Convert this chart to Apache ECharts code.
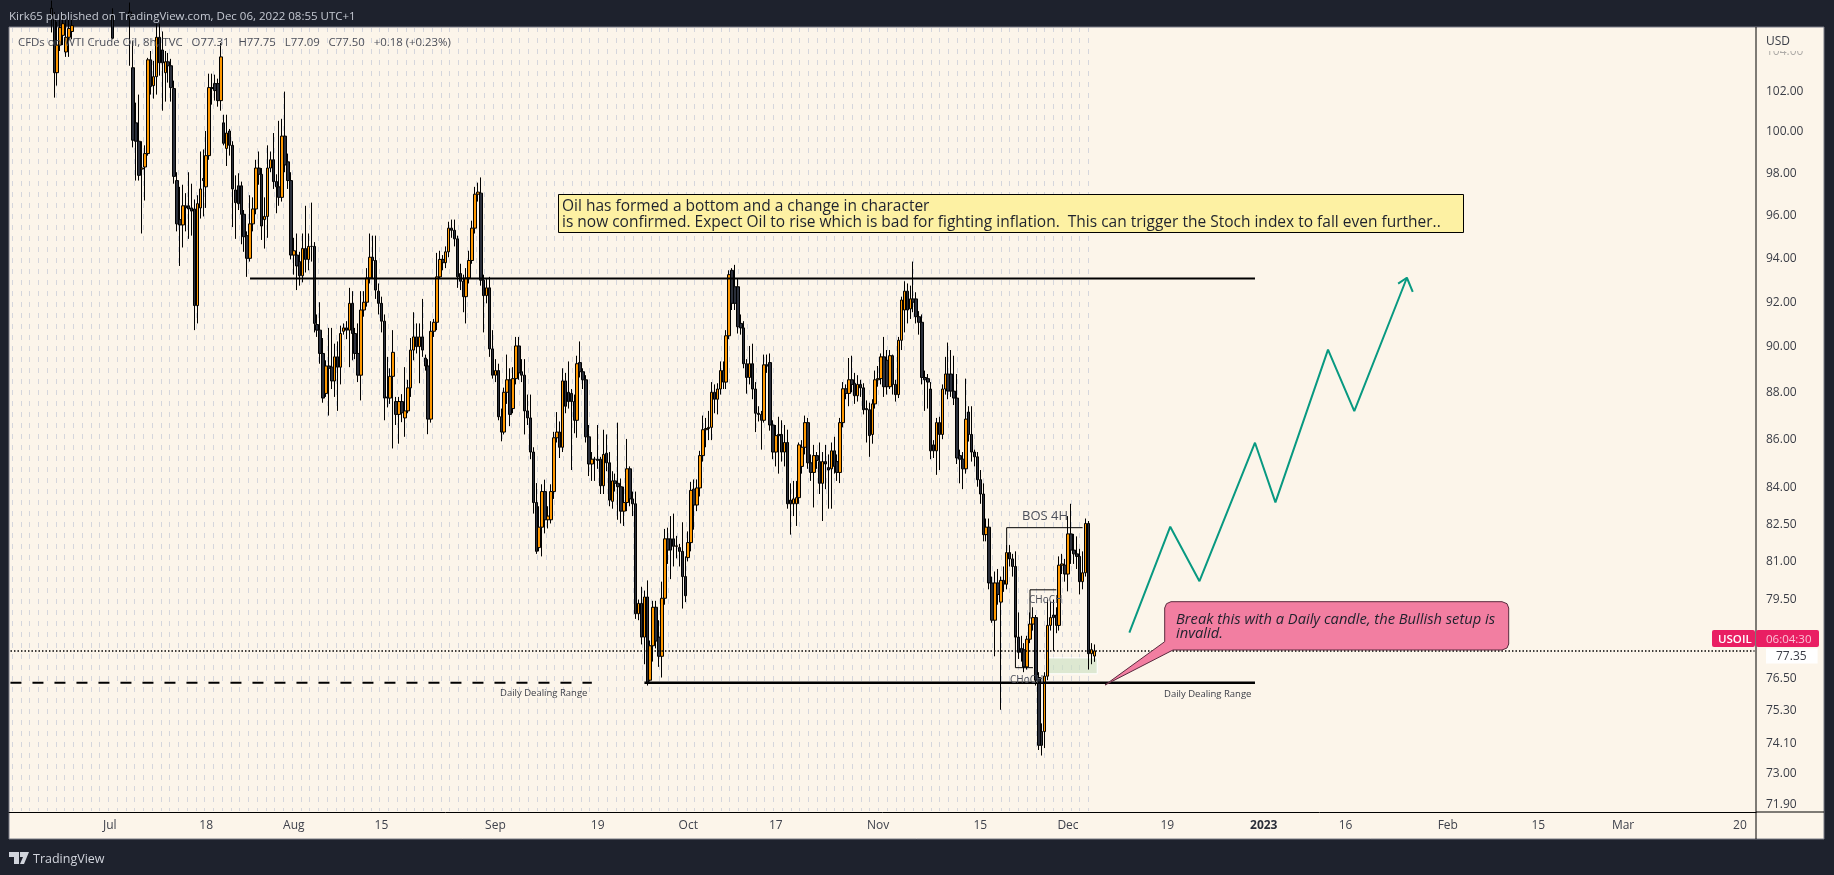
<!DOCTYPE html>
<html>
<head>
<meta charset="utf-8">
<title>USOIL 8h</title>
<script src="https://cdn.jsdelivr.net/npm/echarts@6/dist/echarts.min.js"></script>
<style>
  html, body { margin: 0; padding: 0; background: #1e222d; }
  #chart { width: 1834px; height: 875px; }
</style>
</head>
<body>
<div id="chart"></div>
<script>
// candles are [open, close, low, high]
const earlyCandles = [
  [106.2,105.8,104.95,106.6],[105.6,102.9,101.65,106],[102.9,104.3,102.25,105.5],[104.3,105.2,104,105.6],
  [104.8,105.4,104.3,105.8],[103.95,104.7,103.7,105.6],[104.7,105.15,103.7,105.6],[105,105.3,104.6,105.7]
];
const loneCandles = [[105.8,104.65,104.6,106.2]];
const julyCandles = [
  [106,105.7,103.25,106.5],[103.15,99.55,99.2,104.5],[100.4,99.5,97.6,101.4],[99.5,97.85,97.6,101.8],
  [98.15,98.2,95.1,99.5],[98.25,98.9,96.65,99.3],[98.9,103.55,98.8,103.65],[103.55,102.2,101.8,104],
  [102.25,102.7,101.6,103.5],[102.7,104.7,101.8,105.4],[104.7,103.4,102.75,105.4],[104.05,103.4,101,105],
  [102.9,103.45,101.45,104],[103.45,103.25,102.4,103.9],[103.25,102.15,101.45,103.6],[102.1,97.8,97.45,102.5],[97.6,95.55,95.2,98],
  [95.75,95.5,93.6,97.3],[95.5,96.4,94.45,97.4],[96.4,96.3,95.2,97],[96.4,96.25,94.85,98],[96.3,96.15,95,97.45],
  [96.25,91.8,90.7,96.7],[91.8,96.5,91,96.9],[96.3,97.2,95.8,99],[97.7,97.6,95.9,99.1],
  [97.3,98.8,96.3,100],[98.8,102.15,98.6,102.85],[102.15,102.1,101.3,102.85],[102.35,102,101.5,102.8],
  [102.35,101.5,101.2,102.6],[101.5,103.7,101,104.4],[100.4,99.4,99.3,100.8],[99.15,99.9,98.3,100.8],
  [100,99.3,98.8,100.1],[99.3,97.2,95.4,99.5],[97.15,96.55,94.85,97.85],[97.35,96.5,96.2,97.95],
  [97.35,96,94.6,97.55],[96,94.95,94.25,96.2],[95,93.95,93.1,95.2],[93.95,95.55,93.8,96.9],
  [95.55,96.25,95.2,96.8],[96.25,98.2,96,98.6],[98.2,97.9,97.4,99],[97.9,95.45,94.8,98.2],
  [95.75,95.9,94.4,96.8],[95.9,98.2,94.9,99.3],[98.2,98.6,98,99],[98.6,97.55,97.2,99.9],
  [97.55,97.3,96.05,97.9],[97.3,96.8,96.4,100.5],[96.8,99.75,96.6,100.6],[99.75,98.35,98,101.95],
  [98.5,97.6,97.2,98.9],[97.6,94.1,93.9,98],[94.1,94.3,93.2,94.9],[94.1,93.6,92.5,95.1],[93.8,93.15,92.7,94.25],
  [93.15,94.4,92.85,95.1],[94.4,93.9,93.3,96.4],[93.9,94.5,93.4,95.1],[94.5,94.5,93.8,96.55]
];
const augustCandles = [
  [94.5,91,90.6,94.7],[90.95,90.7,90.4,91.4],[90.7,89.67,89.22,91.95],[89.67,87.73,87.53,90.35],
  [87.93,89.12,87.78,89.37],[89.12,89.02,86.98,90.8],[89.07,88.47,88.12,90.8],[88.47,89.52,87.78,90.1],
  [89.52,89.07,87.18,90.2],[89.07,90.55,88.32,90.9],[90.65,90.8,90.5,91],[90.8,90.7,90.3,91.1],[90.7,91.9,89.07,92.6],
  [91.9,90.55,89.37,92.45],[90.55,89.67,89.42,90.8],[89.67,88.72,88.42,91],[88.72,91.6,87.63,92.45],
  [91.6,91.95,91.3,92.45],[91.95,93.05,91.75,93.5],[93.05,94,92.8,95.1],[94,93.85,93,95],
  [93.85,92.5,92.1,95],[92.45,91.9,91.4,92.8],[91.9,91.1,90.6,92.2],[91.1,87.73,86.78,91.4],
  [87.78,87.73,87.33,89.52],[87.73,88.67,87.48,89.02],[88.67,89.72,85.59,90.7],[87.58,87.03,86.58,87.78],
  [87.03,87.58,85.79,87.78],[87.58,87.1,86.7,87.9],[86.88,87.18,86.08,89.07],[87.18,88.17,87.08,88.52],[88.17,89.82,87.78,90.35],
  [89.82,90.4,89.37,91.5],[90.4,89.97,89.67,91],[89.97,90.4,88.37,91],[90.4,89.82,89.52,92.1],
  [89.47,89.12,88.92,89.62],[89.12,86.83,86.19,89.42],[86.83,90.65,86.68,91.1],[90.65,91.05,90.4,91.2],
  [91.05,93.1,90.7,94.2],[93.1,93.9,93,94.3],[93.9,93.75,93.4,94.1],[93.75,94.25,93.5,94.5],
  [94.25,95.35,94,95.65],[95.35,95.25,94.9,95.75],[95.25,94.85,94.5,95.75],[94.85,93.1,92.6,95],
  [93.25,92.9,92.5,93.7],[92.9,92.2,91.5,93.2],[92.2,93.05,91,93.5],[93.05,93.85,92.8,94.3],
  [93.85,95.35,93.7,95.7],[95.35,96.95,95.1,97.3],[96.95,97.05,96.6,97.5],[97,92.95,92.7,97.75],
  [92.95,92.25,90.6,93.2],[92.25,92.6,91.9,93],[92.6,89.87,89.52,93.1],[89.87,88.72,88.57,90.7],
  [88.72,88.92,88.42,89.42],[88.92,86.93,86.78,89.22],[86.93,86.28,85.89,87.28],[86.28,87.98,86.18,88.18]
];
const septemberCandles = [
  [87.98,88.52,87.48,89.62],[88.52,87.03,86.53,89.02],[87.28,88.57,87.08,89.07],[88.57,90,88.32,90.4],
  [90,88.82,88.52,90.4],[88.87,88.72,88.42,89.42],[88.72,87.18,86.18,89.42],[87.18,86.88,86.58,87.88],
  [86.88,85.44,85.14,87.88],[85.44,83.35,82.9,85.64],[83.35,81.38,81.28,84.15],[81.53,82.35,81.38,83.2],
  [82.35,83.8,81.18,84.1],[83.8,82.65,82.1,84.29],[82.65,82.8,82.3,83.2],[82.65,83.8,82.5,84.1],[83.8,86.04,83.5,86.29],
  [86.04,86.28,85.84,87.13],[86.28,85.64,85.19,86.73],[85.64,88.47,85.44,89.02],[88.47,87.38,87.08,88.82],
  [87.98,87.58,87.28,89.32],[87.93,87.58,84.69,88.12],[87.58,86.78,86.23,87.88],[86.78,89.22,86.04,89.57],
  [89.27,88.87,88.62,90.2],[88.87,88.52,88.12,89.02],[88.52,86.08,85.84,88.72],[86.08,84.94,84.44,86.58],
  [84.94,85.14,84.24,85.44],[85.14,85.14,84.24,85.24],[85.14,85.09,84.74,86.58],
  [85.14,84.04,83.7,85.24],[84.04,85.34,83.7,86.38],[85.39,84.99,84.64,86.18],[84.99,83.45,83.2,85.44],
  [83.4,84.24,83.1,84.64],[84.24,84.14,83.8,84.54],[84.14,84,82.65,86.68],[84,83,82.5,84.34],
  [83,83.35,82.4,84],[83.35,84.74,83,85.99],[84.74,83.5,83.2,84.84],[83.5,83.3,82.8,83.8],
  [83.3,78.93,78.73,83.8],[78.93,79.33,78.68,79.48],[79.33,78.03,77.75,79.98],[78.03,79.58,77,79.83],
  [79.58,76.3,76.2,80.23],[76.4,77.7,76.35,77.9],[77.7,79.18,77.1,79.43],[79.18,77.88,77.6,79.43],
  [78.03,77.3,76.9,78.68],[77.3,79.53,76.5,80.18],[79.53,81.88,79.28,82.28],[81.88,81.43,80.88,82.33],
  [81.88,81.43,80.28,82.8],[81.88,81.58,80.78,82.9],[81.58,81.6,81.1,82],[81.53,81.38,80.78,81.68],[81.38,80.38,79.13,82.55],
  [80.38,79.63,79.38,81.18],[81.13,81.73,80.98,82.18],[81.73,83.85,81.38,84.2],[83.9,83.25,82.25,84.3]
];
const octoberCandles = [
  [83.25,83.95,83,84.3],[83.95,85.29,83.6,85.49],[85.29,86.38,85.04,86.98],[86.38,86.43,85.64,86.88],
  [86.43,86.48,85.94,87.18],[86.48,87.98,85.94,88.42],[87.98,87.68,87.08,88.32],[87.68,88.12,87.03,88.37],
  [88.12,88.92,87.88,89.32],[88.92,88.42,88.12,89.32],[88.42,90.45,88.12,90.7],[90.45,93.2,90.3,93.4],
  [93.4,91.9,91.6,93.5],[92.65,91.9,91.6,93.65],[92.65,90.85,90.55,93],[91,90.8,90.5,91.4],
  [90.8,89.22,89.02,91.1],[89.22,88.62,87.92,89.42],[88.62,89.22,88.32,90],[89.22,88.12,87.68,90.1],
  [88.12,87.08,86.28,88.42],[87.08,87.03,86.73,87.38],[87.03,86.78,85.54,87.18],[86.78,89.17,86.68,89.62],
  [89.17,89.12,88.82,89.62],[89.27,86.58,86.34,89.67],[86.58,85.44,85.14,86.78],[85.44,86.13,84.84,86.58],
  [86.18,86.13,84.54,86.93],[86.18,85.44,85.04,86.78],[85.44,85.84,84.84,86.58],[85.84,83.3,83.1,86.38],
  [83.45,83.3,82.05,84.14],[83.3,83.5,82.8,84.24],[83.3,83.55,82.4,84.24],[83.55,85.74,83.3,85.84],
  [84.84,85.64,84.54,85.94],[85.64,86.68,85.34,86.98],[86.68,84.99,84.74,86.88],[84.99,84.59,84.24,85.34],
  [84.59,85.29,83.15,85.74],[85.29,85.09,84.74,85.44],[85.04,84.14,83.7,85.84],[84.14,85.04,82.6,85.44],
  [85.04,84.94,83.9,85.74],[84.79,84.69,83.1,85.34],[84.74,85.49,83.1,85.84],[85.49,84.84,84.54,86.08],
  [85.04,84.59,84.24,85.34],[84.59,86.68,84.15,86.88],[86.68,88.13,86.48,88.42],[88.13,87.93,87.68,88.32]
];
const novemberCandles = [
  [87.93,88.52,87.38,89.47],[88.52,88.32,87.98,89.57],[88.37,87.83,87.48,88.82],[87.83,88.32,87.58,88.72],
  [88.32,88.17,87.78,88.52],[88.17,87.23,87.03,88.37],[87.28,87.23,85.84,87.63],[87.23,86.13,85.24,87.53],
  [86.18,87.48,85.79,87.68],[87.48,88.52,87.28,88.92],[88.52,88.57,88.22,89.12],[88.57,89.52,88.32,89.67],
  [89.52,88.22,87.78,90.4],[89.37,88.22,87.88,89.82],[88.22,89.57,88.12,89.82],[89.57,88.32,87.88,89.62],
  [88.32,87.88,87.58,88.52],[87.88,90.25,87.73,90.4],[90.25,92.05,89.82,92.2],[91.6,92.45,90.6,92.9],
  [92.45,91.6,91,92.8],[91.65,92.1,91.2,92.7],[92.1,91.95,91.5,93.8],[92.1,91.3,91,92.4],
  [91.3,91.05,90.5,91.55],[91.05,88.62,88.32,91.4],[88.62,88.52,87.18,88.92],[88.57,88.42,87.28,88.77],
  [88.12,85.49,85.14,88.42],[85.74,85.49,85.19,85.94],[85.49,86.68,84.49,86.88],[86.68,86.18,84.69,86.93],
  [86.18,88.12,85.98,88.32],[88.12,88.77,87.88,89.52],[88.77,88.03,87.68,90.15],[88.77,88.03,87.78,89.82],
  [88.03,87.73,87.43,89.57],[87.73,85.19,84.94,88.77],[85.29,85.14,84.14,85.54],[85.14,84.74,83.9,85.44],
  [84.74,86.83,84.54,88.57],[87.13,86.18,85.88,87.38],[86.18,85.44,85.04,87.38],[85.44,85.24,84.84,85.54],
  [85.24,84.29,84,85.44],[84.29,83.7,83.3,84.69],[83.7,82.05,81.78,84.14],[82.05,82.35,81.78,82.7],
  [82.35,80.13,79.88,82.7],[80.13,78.68,78.58,80.38],[78.68,80.13,77.3,80.58],[80.13,79.68,79.28,80.68],
  [79.38,80.23,75.3,80.38],[80.23,80.08,79.78,80.78],[80.08,81.33,79.88,81.63],[81.33,81.08,80.78,81.63],
  [81.08,80.78,80.38,81.28],[80.78,78.03,77.8,81.38],[78.03,77.45,77.2,78.98],[77.6,77.45,77.1,78.08],
  [77.55,76.9,76.7,77.8],[76.9,77.95,76.8,78.08],[77.95,78.53,77.8,78.98],[78.53,78.78,78.28,79.18],
  [78.78,76.4,76.2,78.88],[76.5,74,73.83,76.7],[74.5,74,73.63,74.8],[74.5,76.55,73.9,76.7],
  [76.55,78.48,76.4,79.48],[78.48,78.78,78.28,79.38],[78.88,78.78,77.5,79.48],[78.88,78.48,78.18,79.18],
  [78.48,80.83,78.28,81.18],[80.83,80.88,80.48,81.28],[80.83,80.48,80.18,81.08],[80.48,82.08,79.8,82.8],
  [82.08,81.43,80.88,83.3],[81.43,81.28,80.88,82.08],[81.28,81.18,80.68,81.98],[81.18,80.18,79.68,81.48],
  [80.18,80.53,79.88,81.38],[80.53,82.5,80.38,82.7],[82.5,77.4,76.8,82.6],[77.4,77.55,77,77.8],
  [77.31,77.5,77.09,77.75]
];

const priceTicks = [104,102,100,98,96,94,92,90,88,86,84,82.5,81,79.5,77.35,76.5,75.3,74.1,73,71.9];
const timeTickSlots = [34,67,97,127,166,201,232,262,297,332,362,396,429,457,492,523,552,592];
const timeTickLabels = ['Jul','18','Aug','15','Sep','19','Oct','17','Nov','15','Dec','19','2023','16','Feb','15','Mar','20'];

const resistanceLevel = 93.03;
const supportLevel = 76.3;
const lastPrice = 77.5;
const projection = [[383,78.2],[397,82.37],[407,80.2],[426,85.83],[433,83.36],[451,89.84],[460,87.17],[478,93.06]];
const projectionHead = [[475,92.79],[478,93.06],[480,92.42]];
const bosLine = [[341,81.4],[341,82.33],[367,82.33]];
const chochUpper = [[349,78.74],[349,79.86],[358,79.86]];
const chochLower = [[344,78.1],[344,76.87],[350,76.87]];
const greenZone = { from: 355, to: 372, top: 77.24, bottom: 76.64 };

const SLOT_COUNT = 598;
const LAST_CANDLE_SLOT = 371;
const EARLY_START_SLOT = 14;
const LONE_SLOT = 35;

const blank = ['-','-','-','-'];
const mainCandles = [].concat(julyCandles, augustCandles, septemberCandles, octoberCandles, novemberCandles);
const mainStart = LAST_CANDLE_SLOT - mainCandles.length + 1;

const candleData = [];
for (let i = 0; i < SLOT_COUNT; i++) candleData.push(blank);
earlyCandles.forEach((c, i) => { candleData[EARLY_START_SLOT + i] = c; });
loneCandles.forEach((c, i) => { candleData[LONE_SLOT + i] = c; });
mainCandles.forEach((c, i) => { candleData[mainStart + i] = c; });

const categories = candleData.map(() => '');
timeTickSlots.forEach((s, i) => { categories[s] = timeTickLabels[i]; });

const bg = '#fcf5ea';
const dark = '#1e222d';
const G = { left: 9, top: 27, right: 1756, bottom: 812 };

// dotted backdrop, same pitch as the day columns
function dotTile() {
  const c = document.createElement('canvas');
  c.width = 35; c.height = 11;
  const ctx = c.getContext('2d');
  ctx.fillStyle = '#d5d6dc';
  [3, 12, 21, 29].forEach(x => ctx.fillRect(x, 5, 1, 5));
  return c;
}

function lineSeries(data, opts) {
  return Object.assign({
    type: 'line', data, symbol: 'none', silent: true, z: 5, animation: false,
    lineStyle: { color: '#000', width: 1 }
  }, opts || {});
}

function flat(from, to, level) { return [[from, level], [to, level]]; }

const textStyle = (text, x, y, font, fill, extra) => ({
  type: 'text', x, y: y + 1.5, z: 20,
  style: Object.assign({ text, font, fill, textVerticalAlign: 'middle' }, extra || {})
});

const callout = [
  [1171,601.7],[1502,601.7],[1507,603.7],[1508.7,608],[1508.7,644],[1507,648],[1502,650],
  [1173,650],[1105,685],[1164.7,641.7],[1164.7,608],[1166.5,603.7]
];

const elements = [
  { type: 'rect', z: -2, shape: { x: 9, y: 27, width: 1815, height: 812 }, style: { fill: bg, stroke: '#787b86', lineWidth: 1 } },
  { type: 'rect', z: -1, shape: { x: 10, y: 28, width: 1082, height: 783 }, style: { fill: { image: dotTile(), repeat: 'repeat' } } },
  { type: 'line', z: 6, shape: { x1: 1756, y1: 27, x2: 1756, y2: 839 }, style: { stroke: '#000', lineWidth: 1 } },
  { type: 'line', z: 6, shape: { x1: 1756, y1: 812, x2: 1824, y2: 812 }, style: { stroke: '#000', lineWidth: 1 } },

  textStyle('Kirk65 published on TradingView.com, Dec 06, 2022 08:55 UTC+1', 9, 15, '11.5px "Open Sans"', '#c5c9d2'),
  textStyle('CFDs on WTI Crude Oil, 8h, TVC   O77.31   H77.75   L77.09   C77.50   +0.18 (+0.23%)', 18, 41, '11.4px "Open Sans"', '#4c4f59'),

  // yellow note
  { type: 'rect', z: 18, shape: { x: 558.5, y: 194.5, width: 905, height: 38 }, style: { fill: '#fdf1a3', stroke: '#000', lineWidth: 1 } },
  textStyle('Oil has formed a bottom and a change in character', 562, 205, '15.5px "Open Sans"', '#1e222d'),
  textStyle('is now confirmed. Expect Oil to rise which is bad for fighting inflation.  This can trigger the Stoch index to fall even further..', 562, 221, '15.5px "Open Sans"', '#1e222d'),

  // pink callout
  { type: 'polygon', z: 18, shape: { points: callout }, style: { fill: '#f27ea1', stroke: '#5a2a3e', lineWidth: 1 } },
  textStyle('Break this with a Daily candle, the Bullish setup is', 1176, 618, 'italic 14.7px "Open Sans"', '#1e222d'),
  textStyle('invalid.', 1176, 632, 'italic 14.7px "Open Sans"', '#1e222d'),

  textStyle('Daily Dealing Range', 500, 692, '9.5px "Open Sans"', '#3a3d46'),
  textStyle('Daily Dealing Range', 1164, 693, '9.5px "Open Sans"', '#3a3d46'),
  textStyle('BOS 4H', 1022, 515, '13px "Open Sans"', '#4c4f59'),
  textStyle('CHoCH', 1029, 599, '10px "Open Sans"', '#4c4f59'),
  textStyle('CHoCH', 1010, 679, '10px "Open Sans"', '#4c4f59'),

  // axis bits
  { type: 'rect', z: 10, shape: { x: 1757, y: 28, width: 66, height: 23 }, style: { fill: bg } },
  { type: 'rect', z: 10, shape: { x: 1757, y: 51, width: 66, height: 11 }, style: { fill: bg, opacity: 0.6 } },
  textStyle('USD', 1766, 40, '12px "Open Sans"', '#3a3d46'),
  { type: 'rect', z: 12, shape: { x: 1712, y: 630, r: 2, width: 43, height: 17 }, style: { fill: '#e91e63' } },
  { type: 'rect', z: 12, shape: { x: 1756, y: 630, r: 2, width: 63, height: 17 }, style: { fill: '#e91e63' } },
  textStyle('USOIL', 1718, 638, '600 11.5px "Open Sans"', '#fff'),
  textStyle('06:04:30', 1766, 638, '11.5px "Open Sans"', '#fbc4d6'),

  // brand
  { type: 'polygon', z: 20, shape: { points: [[9,852],[19,852],[19,864],[14,864],[14,857],[9,857]] }, style: { fill: '#d1d4dc' } },
  { type: 'polygon', z: 20, shape: { points: [[20,852],[29,852],[24,864],[20,864],[23,857],[20,857]] }, style: { fill: '#d1d4dc' } },
  textStyle('TradingView', 33, 858, '12.5px "Open Sans"', '#d1d4dc')
];

const chart = echarts.init(document.getElementById('chart'), null, { renderer: 'canvas' });

chart.setOption({
  animation: false,
  backgroundColor: dark,
  grid: { left: G.left, top: G.top, width: G.right - G.left, height: G.bottom - G.top, containLabel: false },
  xAxis: {
    type: 'category',
    data: categories,
    boundaryGap: true,
    axisLine: { lineStyle: { color: '#000', width: 1 } },
    axisTick: { show: false },
    splitLine: { show: false },
    axisLabel: {
      interval: i => categories[i] !== '',
      hideOverlap: false,
      margin: 8,
      color: '#3f424c',
      fontFamily: 'Open Sans',
      fontSize: 12,
      formatter: v => (v === '2023' ? '{strong|2023}' : v),
      rich: { strong: { fontWeight: 'bold', color: '#2a2e39', fontSize: 12, fontFamily: 'Open Sans' } }
    }
  },
  yAxis: {
    type: 'log',
    logBase: 10,
    position: 'right',
    min: 71.62,
    max: 105.23,
    axisLine: { show: false },
    axisTick: { show: false },
    splitLine: { show: false },
    axisLabel: {
      customValues: priceTicks,
      inside: false,
      margin: 10,
      padding: [2, 0, 0, 0],
      color: '#3a3d46',
      fontFamily: 'Open Sans',
      fontSize: 12,
      formatter: v => {
        const s = Number(v).toFixed(2);
        return s === '77.35' ? '{now|' + s + '}' : s;
      },
      rich: { now: { backgroundColor: '#fff', color: '#3a3d46', padding: [2, 11, 1, 10], fontSize: 12, fontFamily: 'Open Sans' } }
    }
  },
  series: [
    {
      type: 'candlestick',
      data: candleData,
      barWidth: 3,
      z: 2,
      silent: true,
      itemStyle: { color: '#ff9800', color0: '#2a2e39', borderColor: '#000', borderColor0: '#000', borderWidth: 1 }
    },
    lineSeries(flat(82, 426, resistanceLevel), { lineStyle: { color: '#000', width: 2 } }),
    lineSeries(flat(217, 426, supportLevel), { lineStyle: { color: '#000', width: 2.5 } }),
    lineSeries(flat(0, 199, supportLevel), { lineStyle: { color: '#000', width: 2, type: [11, 11] } }),
    lineSeries(flat(0, 597, lastPrice), { lineStyle: { color: '#000', width: 1.5, type: [1.5, 2] } }),
    lineSeries(bosLine),
    lineSeries(chochUpper),
    lineSeries(chochLower),
    lineSeries(projection, { lineStyle: { color: '#089981', width: 2 } }),
    lineSeries(projectionHead, { lineStyle: { color: '#089981', width: 2 } }),
    lineSeries([], {
      z: 1,
      markArea: {
        silent: true,
        itemStyle: { color: 'rgba(205,225,195,0.65)', borderColor: '#fff', borderWidth: 1 },
        data: [[{ xAxis: greenZone.from, yAxis: greenZone.top }, { xAxis: greenZone.to, yAxis: greenZone.bottom }]]
      }
    })
  ],
  graphic: { elements }
});
</script>
</body>
</html>
